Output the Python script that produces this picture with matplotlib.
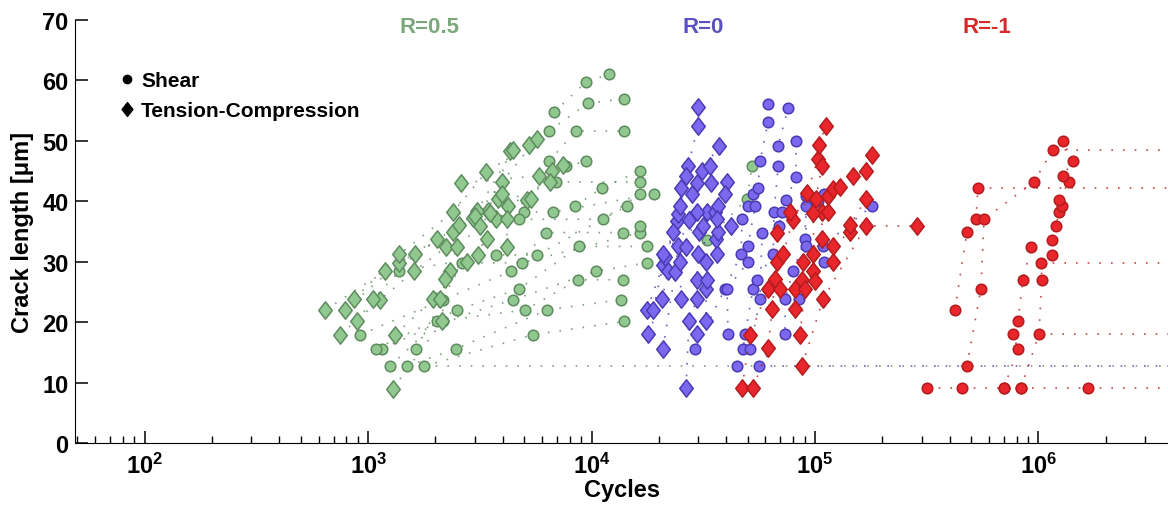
import numpy as np
import matplotlib.pyplot as plt
from matplotlib.path import Path
from matplotlib.lines import Line2D

plt.rcParams['font.family'] = ['Liberation Sans', 'DejaVu Sans']
plt.rcParams['font.weight'] = 'bold'
plt.rcParams['mathtext.fontset'] = 'custom'
plt.rcParams['mathtext.rm'] = 'Liberation Sans:bold'
plt.rcParams['mathtext.default'] = 'rm'

## Data: one list per crack, cycles N and crack length a [um] ##

# R=0.5, shear (circles)
r05_shear_N = [[1781, 5470, 13970], [1494, 2476, 6320, 13550], [1254, 2036, 5040, 8710, 13830],
               [1156, 2166, 4455, 10470, 17710], [1086, 2500, 4740, 8800, 17710],
               [921, 2166, 4360, 6250, 13830], [1640, 2634, 4888, 16490], [1377, 3737, 5700, 14420],
               [4990, 6725, 19040], [4740, 11250, 16490], [6935, 16490], [8440, 11140, 16490],
               [7690, 9450], [6450, 8530, 13970], [6450, 9640, 13970], [6795, 9450, 11970],
               [16490], [32880, 49660, 52270]]
r05_shear_a = [[12.7, 17.9, 20.1], [12.7, 15.6, 22.0, 23.7], [12.7, 20.1, 22.0, 27.0, 27.0],
               [15.6, 20.1, 23.7, 28.4, 29.8], [15.6, 22.0, 25.5, 32.5, 32.5],
               [17.9, 23.7, 28.4, 34.8, 34.8], [15.6, 29.8, 29.8, 34.8], [28.4, 31.1, 31.1, 39.2],
               [38.2, 38.2, 41.2], [37.0, 37.0, 41.2], [43.2, 43.2], [39.2, 42.2, 45.0],
               [45.8, 46.6], [46.6, 51.6, 51.6], [51.6, 56.2, 56.9], [54.7, 59.7, 61.0],
               [35.9], [33.6, 40.4, 45.8]]

# R=0.5, tension-compression (diamonds)
r05_tc_N = [[643, 1192, 2036, 2950, 3440, 4317], [789, 1377, 2401, 3076, 4455],
            [865, 1377, 2401, 3373, 5250], [750, 1132, 1606, 2236, 3013, 3980, 5700],
            [893, 1053, 1623, 2553, 2606, 5820, 7450], [1321, 1955, 2327, 3105, 3737, 5140, 6650],
            [1294, 2143, 2213, 2775, 3406, 4230, 6520], [2100, 2500, 3170, 3513, 3816, 3980, 5360],
            [4190, 4190]]
r05_tc_a = [[22.0, 28.4, 33.7, 37.2, 38.3, 48.3], [22.0, 29.8, 34.9, 38.4, 48.5],
            [23.8, 31.2, 38.2, 44.8, 49.3], [17.9, 23.7, 28.4, 32.4, 37.5, 43.2, 50.3],
            [20.1, 23.8, 31.2, 36.0, 43.0, 44.2, 46.0], [17.9, 23.8, 28.5, 31.1, 37.0, 40.2, 45.0],
            [9.0, 20.1, 27.1, 29.9, 33.7, 39.2, 43.2], [23.8, 32.4, 35.9, 38.0, 40.4, 41.2, 40.4],
            [32.4, 37.0]]

# R=0, shear
r0_shear_N = [[29050, 39560, 46680, 47160, 50120, 52820, 55610, 56750, 61630, 61630],
              [40810, 40390, 50120, 50120, 53920],
              [44790, 47650, 48640, 52820, 55040, 64910, 65570, 68410, 68410, 75740],
              [51170, 56750, 57920, 69110, 71260, 74220, 82200, 82200],
              [56180, 73470, 73470, 79690, 90180, 91110, 98880, 103100],
              [84780, 91110, 91110, 109700], [109700, 108600, 179800]]
r0_shear_a = [[15.5, 25.5, 31.3, 37.0, 39.2, 41.2, 42.2, 46.6, 53.1, 56.1],
              [18.0, 25.5, 29.9, 32.6, 39.2],
              [12.7, 15.5, 18.0, 25.5, 27.0, 31.3, 38.2, 45.8, 49.1, 55.4],
              [15.5, 23.8, 34.7, 35.9, 38.2, 40.2, 44.0, 49.9],
              [12.7, 18.0, 23.8, 28.4, 33.7, 39.2, 40.4, 40.0],
              [23.8, 32.6, 40.8, 41.2], [29.9, 32.6, 39.2]]

# R=0, tension-compression
r0_tc_N = [[17700, 20880, 24150, 27020, 29970, 29970],
           [17900, 20660, 21980, 24380, 26460, 31230, 37210],
           [18840, 21320, 23150, 24890, 25140, 29660, 33900],
           [20880, 23650, 24380, 27300, 28170, 34260, 40390],
           [26460, 27300, 29660, 29660, 29970, 30280, 32880, 39560],
           [25140, 24890, 26460, 29660],
           [29660, 32540, 32540, 32880, 32540, 31550, 35700, 36830],
           [36450, 36080, 36830, 36450, 42110], [20880]]
r0_tc_a = [[22.0, 29.4, 36.7, 45.8, 52.4, 55.6],
           [18.0, 23.8, 28.4, 37.9, 44.2, 45.0, 49.1],
           [22.0, 30.8, 34.9, 39.2, 42.2, 43.0, 45.8],
           [15.5, 28.3, 32.6, 36.9, 41.2, 43.0, 43.2],
           [9.1, 20.2, 23.8, 27.0, 31.3, 34.9, 38.2, 41.2],
           [23.8, 29.9, 32.4, 38.2],
           [18.0, 20.2, 25.5, 27.0, 29.9, 35.9, 38.2, 39.2],
           [31.3, 33.7, 34.9, 37.0, 35.9], [31.3]]

# R=-1, shear
rm1_shear_N = [[316600, 454600, 700800, 835300, 1664000], [422700, 478300, 525000, 536000],
               [478300, 552800, 570400, 955000, 1161000],
               [700800, 809700, 769300, 809700, 852700, 925600],
               [835300, 1005000, 1036000, 1026000],
               [1149000, 1149000, 1198000, 1236000, 1274000, 1236000, 1369000, 1288000, 1427000, 1288000]]
rm1_shear_a = [[9.1, 9.1, 9.1, 9.1, 9.1], [22.0, 34.9, 37.0, 42.2],
               [12.7, 25.5, 37.0, 43.2, 48.5],
               [9.1, 15.5, 18.0, 20.2, 27.0, 32.4],
               [9.1, 18.0, 27.0, 29.8],
               [31.1, 33.6, 35.9, 38.2, 39.2, 40.2, 43.2, 44.2, 46.6, 49.9]]

# R=-1, tension-compression
rm1_tc_N = [[47160, 51170, 61630, 67670, 71930, 79690, 92070, 103100, 104170, 112000],
            [52820, 61630, 64260, 66300, 67670, 77250, 100940, 107450],
            [81330, 81330, 87440, 88350, 97860, 107450, 107450, 114300, 120400, 129400, 148000, 169200, 179800],
            [85650, 90180, 97860, 120400, 120400, 143500, 143500, 169200],
            [87440, 108600, 169200, 285900], [69820, 99900, 97860, 114300]]
rm1_tc_a = [[9.1, 17.9, 25.5, 29.9, 31.3, 36.9, 41.3, 47.0, 49.3, 52.4],
            [9.1, 15.7, 22.2, 27.1, 34.7, 38.2, 40.4, 45.8],
            [22.2, 25.5, 27.0, 29.9, 31.3, 33.7, 38.2, 40.8, 42.0, 42.3, 44.2, 45.0, 47.6],
            [17.9, 25.5, 28.4, 29.9, 32.6, 34.9, 36.0, 40.4],
            [12.7, 23.8, 35.9, 35.9], [25.5, 26.8, 38.0, 38.2]]

# cracks that stopped growing (dotted line runs on to the end)
r05_stop_N, r05_stop_a = [1781], [12.7]
r0_stop_N, r0_stop_a = [56180], [12.7]
rm1_stop_N = [536000, 1161000, 1026000, 1005000, 1664000]
rm1_stop_a = [42.2, 48.5, 29.8, 18.0, 9.1]

XMAX = 3.8e6

groups = [
    ('R=0.5', r05_shear_N, r05_shear_a, r05_tc_N, r05_tc_a, r05_stop_N, r05_stop_a,
     '#90c890', '#5e8c5e', '#7aa87a', 1890),
    ('R=0', r0_shear_N, r0_shear_a, r0_tc_N, r0_tc_a, r0_stop_N, r0_stop_a,
     '#7b68ee', '#4a3ab4', '#5b4fc4', 31500),
    ('R=-1', rm1_shear_N, rm1_shear_a, rm1_tc_N, rm1_tc_a, rm1_stop_N, rm1_stop_a,
     '#e8262b', '#b41c1e', '#d42a2a', 590000),
]

diamond = Path([(0, 1), (0.78, 0), (0, -1), (-0.78, 0), (0, 1)],
               [Path.MOVETO, Path.LINETO, Path.LINETO, Path.LINETO, Path.CLOSEPOLY])
dots = (0, (1, 6))

fig = plt.figure(figsize=(11.68, 5.10), dpi=100)
ax = fig.add_axes([0.0646, 0.1294, 0.9354, 0.830])

for k, (name, sN, sa, tN, ta, stN, sta, face, edge, tcol, xt) in enumerate(groups):
    z = 2 + 2 * k
    for N, a in zip(sN + tN, sa + ta):
        ax.plot(N, a, ls=dots, lw=1.2, color=edge, alpha=0.8, zorder=z)
    for N0, a0 in zip(stN, sta):
        ax.plot([N0, XMAX], [a0, a0], ls=dots, lw=1.2, color=edge, alpha=0.8, zorder=z)
    ax.plot(np.concatenate(sN), np.concatenate(sa), 'o', ls='none', ms=7.6,
            mfc=face, mec=edge, mew=1.1, zorder=z + 1)
    ax.plot(np.concatenate(tN), np.concatenate(ta), marker=diamond, ls='none', ms=12.5,
            mfc=face, mec=edge, mew=1.1, zorder=z + 1)
    ax.text(xt, 68.8, name, color=tcol, fontsize=16, fontweight='bold',
            ha='center', va='center')

ax.set_xscale('log')
ax.set_xlim(49, XMAX)
ax.set_ylim(0, 70)
ax.set_yticks(np.arange(0, 71, 10))
ax.spines['top'].set_visible(False)
ax.spines['right'].set_visible(False)
ax.tick_params(axis='both', which='major', direction='in', length=9, width=1.1,
               labelsize=17)
ax.tick_params(axis='x', which='minor', direction='in', length=5, width=1)
ax.tick_params(axis='x', pad=7)
ax.tick_params(axis='y', pad=5)
ax.set_xlabel('Cycles', fontsize=17, fontweight='bold', labelpad=0)
ax.set_ylabel('Crack length [\u03bcm]', fontsize=17, fontweight='bold', labelpad=6)

handles = [Line2D([], [], marker='o', ls='none', color='k', ms=6),
           Line2D([], [], marker=diamond, ls='none', color='k', ms=10)]
ax.legend(handles, ['Shear', 'Tension-Compression'], loc='upper left',
          bbox_to_anchor=(0.022, 0.922), frameon=False, handlelength=0.8,
          handletextpad=0.3, labelspacing=0.5, prop={'size': 15, 'weight': 'bold'})

fig.savefig('out.png', dpi=100)
